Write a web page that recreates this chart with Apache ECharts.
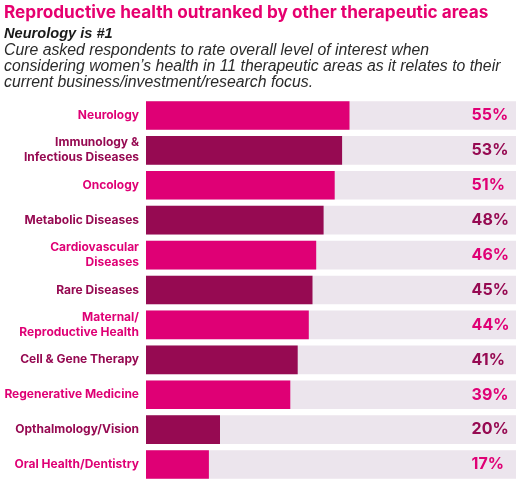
<!DOCTYPE html>
<html>
<head>
<meta charset="utf-8">
<script src="https://cdn.jsdelivr.net/npm/echarts@6/dist/echarts.min.js"></script>
<style>
  html, body { margin: 0; padding: 0; background: #fff; }
  #chart { width: 528px; height: 484px; }
</style>
</head>
<body>
<div id="chart"></div>
<script>
// 数据
var categories = ['Neurology', 'Immunology &\nInfectious Diseases', 'Oncology', 'Metabolic Diseases',
    'Cardiovascular\nDiseases', 'Rare Diseases', 'Maternal/\nReproductive Health', 'Cell & Gene Therapy',
    'Regenerative Medicine', 'Opthalmology/Vision', 'Oral Health/Dentistry'];
var values = [55, 53, 51, 48, 46, 45, 44, 41, 39, 20, 17];
var trackMax = 100;

var pink = '#df0075';
var plum = '#960a52';
var track = '#ece5ed';

function colorOf(i) { return i % 2 === 0 ? pink : plum; }

var myChart = echarts.init(document.getElementById('chart'));
var option = {
    animation: false,
    graphic: [
        {type: 'text', left: 4, top: 4, style: {text: 'Reproductive health outranked by other therapeutic areas',
            font: 'bold 17.2px Inter', fill: '#e6006f'}},
        {type: 'text', left: 4, top: 26, style: {text: 'Neurology is #1',
            font: 'italic bold 14.6px "Liberation Sans"', fill: '#1a1a1a'}},
        {type: 'text', left: 4, top: 43, style: {text: 'Cure asked respondents to rate overall level of interest when\nconsidering women\u2019s health in 11 therapeutic areas as it relates to their\ncurrent business/investment/research focus.',
            font: 'italic 15.8px "Liberation Sans"', lineHeight: 16, fill: '#2a2a2a'}}
    ],
    grid: {left: 146, right: 12, top: 98, bottom: 2},
    xAxis: {type: 'value', min: 0, max: trackMax, show: false},
    yAxis: {
        type: 'category',
        data: categories,
        inverse: true,
        axisLine: {show: false},
        axisTick: {show: false},
        axisLabel: {
            margin: 7,
            fontFamily: 'Inter',
            fontWeight: 'bold',
            fontSize: 12,
            lineHeight: 15,
            align: 'right',
            color: function (v, i) { return colorOf(i); }
        }
    },
    series: [
        {
            // 背景条
            type: 'bar',
            barCategoryGap: '18%',
            barGap: '-100%',
            silent: true,
            data: values.map(function (v, i) {
                return {value: trackMax, label: {color: colorOf(i)}};
            }),
            itemStyle: {color: track},
            label: {
                show: true,
                position: ['88%', '50%'],
                verticalAlign: 'middle',
                fontFamily: 'Inter',
                fontWeight: 'bold',
                fontSize: 16,
                formatter: function (p) { return values[p.dataIndex] + '%'; }
            }
        },
        {
            type: 'bar',
            barCategoryGap: '18%',
            barGap: '-100%',
            data: values.map(function (v, i) { return {value: v, itemStyle: {color: colorOf(i)}}; })
        }
    ]
};
myChart.setOption(option);
</script>
</body>
</html>
